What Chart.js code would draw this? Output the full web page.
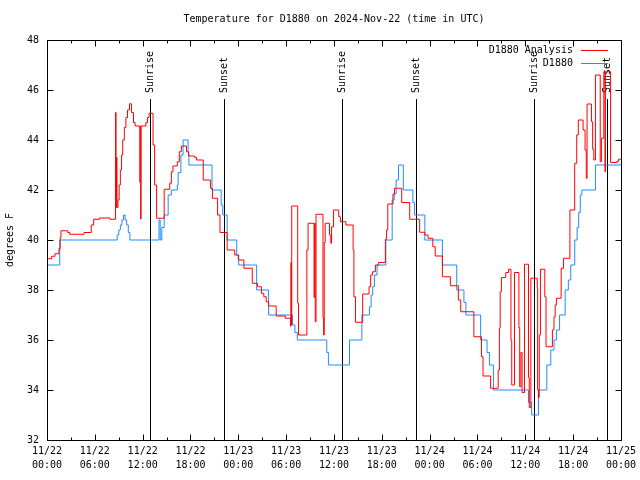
<!DOCTYPE html>
<html>
<head>
<meta charset="utf-8">
<script src="https://cdn.jsdelivr.net/npm/chart.js@4"></script>
<style>
  html, body { margin: 0; padding: 0; background: #fff; }
  #wrap { width: 640px; height: 480px; }
</style>
</head>
<body>
<div id="wrap"><canvas id="tempChart" width="640" height="480"></canvas></div>
<script>
const FONT = '"DejaVu Sans Mono", "Liberation Mono", monospace';

// hours since 11/22 00:00 UTC, value holds until next entry
const obsHours = [0, 1.6, 8.8, 9.0, 9.2, 9.4, 9.6, 9.8, 10.0, 10.2, 10.4, 14.05, 14.2, 14.4, 14.7, 15.2, 15.6, 16.35, 16.45, 16.8,
  17.07, 17.7, 17.8, 20.7, 21.85, 22.05, 22.6, 23.8, 24.05, 26.3, 27.8, 30.8, 31.1, 31.4, 35.1, 35.3, 37.95, 39.5, 40.45, 40.66,
  40.86, 41.07, 41.4, 42.5, 43.3, 43.55, 43.8, 44.1, 44.7, 45.9, 46.1, 47.4, 49.6, 51.4, 52.3, 52.55, 54.4, 55.2, 55.5, 56.0,
  60.4, 60.8, 61.65, 62.7, 63.2, 63.6, 63.9, 64.3, 65.0, 65.4, 65.7, 66.2, 66.5, 66.7, 66.9, 67.1, 68.8, 72];
const obsTemps = [39.0, 40.0, 40.2, 40.4, 40.6, 40.8, 41.0, 40.8, 40.6, 40.3, 40.0, 40.8, 40.0, 40.5, 41.0, 41.8, 42.0, 42.2, 42.7, 43.4,
  44.0, 43.5, 43.0, 42.0, 41.4, 41.0, 40.0, 39.4, 39.0, 38.0, 37.0, 36.6, 36.3, 36.0, 35.5, 35.0, 36.0, 37.0, 37.33, 37.8,
  38.13, 38.6, 39.0, 40.0, 41.6, 41.85, 42.4, 43.0, 42.0, 41.5, 41.0, 40.0, 39.0, 38.0, 37.5, 37.0, 36.0, 35.5, 35.0, 34.0,
  33.5, 33.0, 34.0, 35.0, 35.6, 36.0, 36.4, 37.0, 38.0, 38.4, 39.0, 40.0, 40.5, 41.1, 41.8, 42.0, 43.0, 43.0];

const anaHours = [0, 0.58, 1.0, 1.5, 1.65, 1.75, 2.6, 2.85, 4.65, 5.55, 5.85, 6.6, 7.9, 8.6, 8.66, 8.72, 8.78, 8.9, 9.05, 9.2,
  9.35, 9.5, 9.7, 9.9, 10.1, 10.35, 10.6, 10.85, 11.05, 11.65, 11.7, 11.75, 11.8, 12.4, 12.6, 12.8, 13.3, 13.5, 13.75, 14.7,
  15.4, 15.6, 15.8, 16.35, 16.6, 16.85, 17.5, 17.75, 18.5, 18.75, 19.6, 20.5, 20.75, 21.4, 21.7, 22.6, 23.55, 24.0, 24.7, 25.75,
  26.4, 26.9, 27.2, 27.5, 27.8, 28.75, 29.9, 30.55, 30.6, 30.65, 30.7, 31.45, 31.55, 32.6, 32.75, 33.5, 33.58, 33.65, 33.75, 34.62,
  34.7, 34.78, 34.9, 35.44, 35.6, 35.7, 35.95, 36.6, 36.8, 37.5, 38.4, 38.5, 38.7, 39.6, 40.4, 40.6, 40.85, 41.2, 41.6, 42.45,
  42.6, 42.75, 43.4, 43.6, 44.5, 45.5, 46.75, 47.4, 47.8, 48.4, 48.7, 49.6, 50.6, 51.6, 51.9, 53.55, 54.5, 54.7, 55.65, 56.6,
  56.75, 56.85, 57.0, 57.55, 57.9, 58.2, 58.3, 58.65, 59.2, 59.3, 59.45, 59.6, 59.9, 60.4, 60.5, 60.7, 61.5, 61.55, 61.65, 61.75,
  61.9, 62.45, 62.6, 63.4, 63.6, 63.75, 63.9, 64.5, 64.8, 65.6, 66.2, 66.45, 66.65, 67.25, 67.5, 67.65, 67.75, 68.3, 68.45, 68.6,
  68.8, 69.4, 69.55, 69.85, 70.0, 70.05, 70.7, 71.5, 71.7, 72];
const anaTemps = [39.25, 39.35, 39.45, 39.65, 40.1, 40.37, 40.3, 40.23, 40.3, 40.6, 40.83, 40.88, 40.83, 45.1, 41.3, 43.3, 41.3, 41.6, 42.2, 42.8,
  43.4, 44.0, 44.5, 44.9, 45.2, 45.45, 45.1, 44.7, 44.56, 42.3, 44.56, 40.84, 44.56, 44.7, 44.9, 45.07, 43.8, 42.2, 40.87, 42.03,
  42.27, 42.73, 42.96, 43.13, 43.53, 43.76, 43.53, 43.36, 43.31, 43.2, 42.4, 42.07, 41.67, 41.0, 40.3, 39.6, 39.4, 39.2, 38.87, 38.27,
  38.13, 37.87, 37.73, 37.53, 37.36, 36.96, 36.87, 36.55, 39.1, 36.6, 41.36, 37.47, 36.2, 39.6, 40.67, 37.7, 40.67, 36.73, 41.03, 36.9,
  36.2, 39.9, 40.67, 40.2, 39.87, 40.53, 41.2, 40.93, 40.73, 40.6, 39.6, 37.73, 36.71, 37.84, 38.13, 38.6, 38.73, 39.0, 39.1, 40.03,
  40.4, 41.44, 41.83, 42.07, 41.5, 40.83, 40.31, 40.2, 40.07, 39.73, 39.36, 38.53, 38.17, 37.6, 37.13, 36.13, 35.33, 34.56, 34.07, 34.8,
  36.47, 37.93, 38.5, 38.7, 38.83, 36.0, 34.2, 38.7, 36.5, 34.13, 35.5, 33.9, 39.03, 34.5, 33.3, 38.47, 38.07, 34.0, 33.7, 36.2,
  38.83, 37.73, 35.73, 36.4, 36.93, 37.4, 37.67, 38.87, 39.27, 41.2, 43.07, 44.2, 44.8, 44.4, 43.6, 42.47, 45.44, 44.73, 43.63, 43.2,
  46.6, 43.13, 44.07, 46.73, 42.73, 46.73, 43.1, 43.15, 43.23, 43.23];

const sunHours = [12.95, 22.2, 37.0, 46.27, 61.03, 70.3];
const sunLabels = ['Sunrise', 'Sunset', 'Sunrise', 'Sunset', 'Sunrise', 'Sunset'];

const xTickLabels = [
  ['11/22', '00:00'], ['11/22', '06:00'], ['11/22', '12:00'], ['11/22', '18:00'],
  ['11/23', '00:00'], ['11/23', '06:00'], ['11/23', '12:00'], ['11/23', '18:00'],
  ['11/24', '00:00'], ['11/24', '06:00'], ['11/24', '12:00'], ['11/24', '18:00'],
  ['11/25', '00:00']
];

const seriesNames = ['D1880 Analysis', 'D1880'];
const seriesColors = ['#ff0000', '#1e8cff'];

const toPoints = (xs, ys) => xs.map((h, i) => ({ x: h, y: ys[i] }));

// frame, inward ticks, sun markers, legend, titles
const decor = {
    id: 'decor',
    beforeDatasetsDraw(chart) {
        const { ctx, chartArea: a, scales: { x } } = chart;
        ctx.save();
        ctx.strokeStyle = '#000';
        ctx.lineWidth = 1;
        ctx.fillStyle = '#000';
        ctx.font = '10px ' + FONT;
        sunHours.forEach((h, i) => {
            const px = Math.round(x.getPixelForValue(h)) + 0.5;
            const top = a.top + 59;
            ctx.beginPath();
            ctx.moveTo(px, top);
            ctx.lineTo(px, a.bottom);
            ctx.stroke();
            ctx.save();
            ctx.translate(px, top - 6);
            ctx.rotate(-Math.PI / 2);
            ctx.textAlign = 'left';
            ctx.textBaseline = 'middle';
            ctx.fillText(sunLabels[i], 0, 0);
            ctx.restore();
        });
        ctx.restore();
    },
    afterDraw(chart) {
        const { ctx, chartArea: a, scales: { x, y } } = chart;
        ctx.save();
        ctx.strokeStyle = '#000';
        ctx.lineWidth = 1;
        const L = Math.round(a.left) + 0.5, R = Math.round(a.right) + 0.5;
        const T = Math.round(a.top) + 0.5, B = Math.round(a.bottom) + 0.5;
        ctx.strokeRect(L, T, R - L, B - T);
        ctx.beginPath();
        for (let h = 3; h < 72; h += 3) {
            const px = Math.round(x.getPixelForValue(h)) + 0.5;
            const len = h % 6 === 0 ? 6 : 3;
            ctx.moveTo(px, B); ctx.lineTo(px, B - len);
            ctx.moveTo(px, T); ctx.lineTo(px, T + len);
        }
        for (let v = 34; v < 48; v += 2) {
            const py = Math.round(y.getPixelForValue(v)) + 0.5;
            ctx.moveTo(L, py); ctx.lineTo(L + 6, py);
            ctx.moveTo(R, py); ctx.lineTo(R - 6, py);
        }
        ctx.stroke();

        ctx.fillStyle = '#000';
        ctx.font = '10px ' + FONT;
        ctx.textAlign = 'center';
        ctx.textBaseline = 'middle';
        ctx.fillText('Temperature for D1880 on 2024-Nov-22 (time in UTC)', (a.left + a.right) / 2, 19);

        ctx.save();
        ctx.translate(10, (a.top + a.bottom) / 2);
        ctx.rotate(-Math.PI / 2);
        ctx.fillText('degrees F', 0, 0);
        ctx.restore();

        ctx.textAlign = 'right';
        seriesNames.forEach((name, i) => {
            const ly = a.top + 10 + i * 13;
            ctx.fillStyle = '#000';
            ctx.fillText(name, a.right - 48, ly);
            ctx.strokeStyle = seriesColors[i];
            ctx.beginPath();
            ctx.moveTo(a.right - 40, Math.round(ly) + 0.5);
            ctx.lineTo(a.right - 13, Math.round(ly) + 0.5);
            ctx.stroke();
        });
        ctx.restore();
    }
};

const ctx = document.getElementById('tempChart').getContext('2d');
new Chart(ctx, {
    type: 'line',
    data: {
        datasets: [
            {
                label: seriesNames[0],
                data: toPoints(anaHours, anaTemps),
                borderColor: seriesColors[0],
                borderWidth: 1,
                stepped: 'before',
                pointRadius: 0,
                fill: false
            },
            {
                label: seriesNames[1],
                data: toPoints(obsHours, obsTemps),
                borderColor: seriesColors[1],
                borderWidth: 1,
                stepped: 'before',
                pointRadius: 0,
                fill: false
            }
        ]
    },
    options: {
        responsive: false,
        animation: false,
        layout: { padding: { top: 40, right: 18, left: 0, bottom: 0 } },
        plugins: {
            legend: { display: false },
            title: { display: false },
            tooltip: { enabled: false }
        },
        scales: {
            x: {
                type: 'linear',
                min: 0,
                max: 72,
                grid: { display: false, drawTicks: false },
                border: { display: false },
                afterFit: s => { s.height = 40; },
                ticks: {
                    stepSize: 6,
                    autoSkip: false,
                    maxRotation: 0,
                    padding: 4,
                    color: '#000',
                    font: { family: FONT, size: 10, lineHeight: 1.4 },
                    callback: (v, i) => xTickLabels[i]
                }
            },
            y: {
                min: 32,
                max: 48,
                grid: { display: false, drawTicks: false },
                border: { display: false },
                afterFit: s => { s.width = 47; },
                ticks: {
                    stepSize: 2,
                    padding: 8,
                    color: '#000',
                    font: { family: FONT, size: 10 }
                }
            }
        }
    },
    plugins: [decor]
});
</script>
</body>
</html>
